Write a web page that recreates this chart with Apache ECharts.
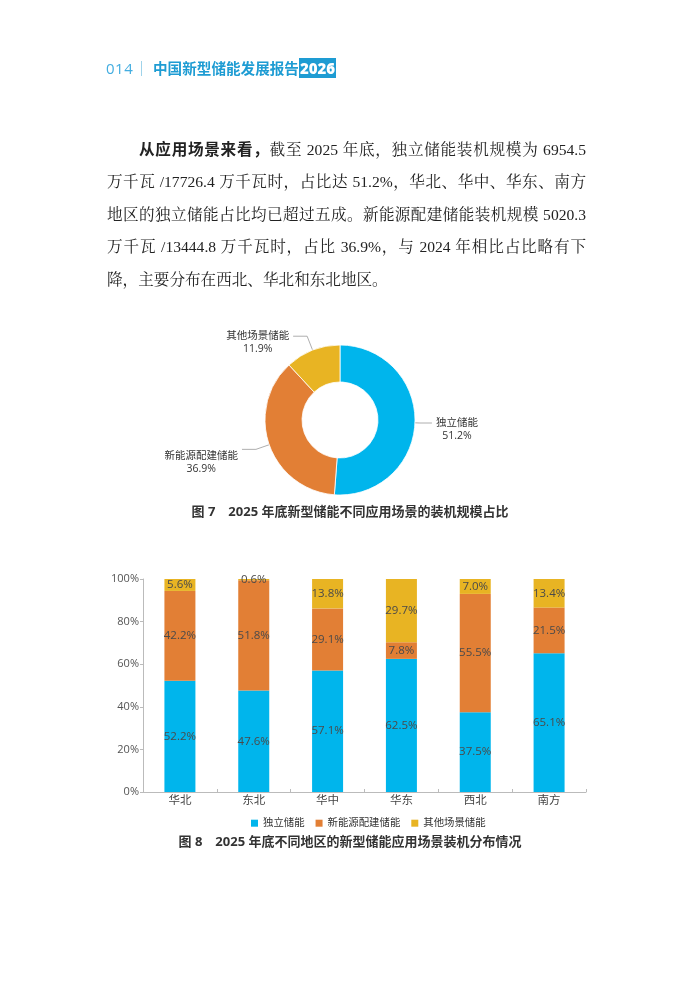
<!DOCTYPE html>
<html>
<head>
<meta charset="utf-8">
<script src="https://cdn.jsdelivr.net/npm/echarts@6/dist/echarts.min.js"></script>
<style>
  html, body { margin: 0; padding: 0; background: #fff; }
  #page { position: relative; width: 700px; height: 983px; overflow: hidden; }
  #chart { position: absolute; left: 0; top: 0; width: 700px; height: 983px; }
  .hdr { position: absolute; top: 58px; height: 20px; line-height: 20px; font-family: "Open Sans", "Noto Sans CJK SC", sans-serif; z-index: 2; }
  #pno { left: 106px; font-size: 15px; color: #43ade0; letter-spacing: 0.5px; }
  #sep { position: absolute; left: 141px; top: 61px; width: 1px; height: 15px; background: #9fd3ea; z-index: 2; }
  #ttl { left: 153px; font-size: 14.6px; font-weight: bold; color: #1e9cd3; font-family: "Noto Sans CJK SC", sans-serif; }
  #ttl span { background: #1e9cd3; color: #fff; padding: 0 1px; font-family: "Open Sans", sans-serif; font-weight: 800; font-size: 15px; }
  #para { position: absolute; left: 107px; top: 132px; width: 479px; z-index: 2;
          font-family: "Liberation Serif", "Noto Serif CJK SC", "Noto Sans CJK SC", serif;
          font-size: 15.6px; line-height: 32.4px; color: #222; }
  #para .ln { text-align: justify; text-align-last: justify; white-space: nowrap; }
  #para .ln.last { text-align-last: left; }
  #para b { font-family: "Noto Sans CJK SC", sans-serif; font-weight: bold; }
</style>
</head>
<body>
<div id="page">
  <div id="chart"></div>
  <div class="hdr" id="pno">014</div>
  <div id="sep"></div>
  <div class="hdr" id="ttl">中国新型储能发展报告<span>2026</span></div>
  <div id="para">
    <div class="ln" style="padding-left:32px"><b>从应用场景来看，</b>截至 2025 年底，独立储能装机规模为 6954.5</div>
    <div class="ln">万千瓦 /17726.4 万千瓦时，占比达 51.2%，华北、华中、华东、南方</div>
    <div class="ln">地区的独立储能占比均已超过五成。新能源配建储能装机规模 5020.3</div>
    <div class="ln">万千瓦 /13444.8 万千瓦时，占比 36.9%，与 2024 年相比占比略有下</div>
    <div class="ln last">降，主要分布在西北、华北和东北地区。</div>
  </div>
</div>
<script>
// ---- Data ----
var pieNames = ['独立储能', '新能源配建储能', '其他场景储能'];
var pieValues = [51.2, 36.9, 11.9];

var regions = ['华北', '东北', '华中', '华东', '西北', '南方'];
var seriesNames = ['独立储能', '新能源配建储能', '其他场景储能'];
var independent = [52.2, 47.6, 57.1, 62.5, 37.5, 65.1];
var renewable = [42.2, 51.8, 29.1, 7.8, 55.5, 21.5];
var others = [5.6, 0.6, 13.8, 29.7, 7.0, 13.4];
var yTicks = [0, 20, 40, 60, 80, 100];

var caption7 = '图 7　2025 年底新型储能不同应用场景的装机规模占比';
var caption8 = '图 8　2025 年底不同地区的新型储能应用场景装机分布情况';

// ---- Styles ----
var colors = ['#00b5ec', '#e27f35', '#e8b423'];
var sansFont = '"Open Sans", "Noto Sans CJK SC", sans-serif';
var pieLineLen = [[5, 12], [14, 14], [15, 14]];

var chart = echarts.init(document.getElementById('chart'), null, { renderer: 'canvas' });

var pieData = pieNames.map(function (n, i) {
  return {
    name: n,
    value: pieValues[i],
    itemStyle: { color: colors[i] },
    labelLine: { length: pieLineLen[i][0], length2: pieLineLen[i][1] }
  };
});

var barData = [independent, renewable, others];
var barSeries = seriesNames.map(function (n, i) {
  return {
    name: n,
    type: 'bar',
    stack: 'total',
    barWidth: 31,
    data: barData[i],
    itemStyle: { color: colors[i] },
    label: {
      show: true,
      position: 'inside',
      color: '#4a4a4a',
      fontSize: 11.5,
      fontFamily: sansFont,
      formatter: function (p) { return p.value.toFixed(1) + '%'; }
    },
    emphasis: { disabled: true }
  };
});

var option = {
  animation: false,
  color: colors,
  textStyle: { fontFamily: sansFont },
  graphic: [
    {
      type: 'text', left: 'center', top: 506,
      style: { text: caption7, fontSize: 13, fontWeight: 'bold', fill: '#333', fontFamily: sansFont }
    },
    {
      type: 'text', left: 'center', top: 836,
      style: { text: caption8, fontSize: 13, fontWeight: 'bold', fill: '#333', fontFamily: sansFont }
    }
  ],
  legend: {
    data: seriesNames,
    left: 246,
    top: 813,
    itemWidth: 7,
    itemHeight: 7,
    itemGap: 11,
    icon: 'rect',
    textStyle: { fontSize: 10.4, color: '#333', fontFamily: sansFont }
  },
  grid: { left: 143, right: 114, top: 579, bottom: 191 },
  xAxis: {
    type: 'category',
    data: regions,
    axisLine: { lineStyle: { color: '#bbb', width: 1 } },
    axisTick: { show: true, inside: true, length: 3, lineStyle: { color: '#bbb' } },
    axisLabel: { color: '#444', fontSize: 11.5, margin: 3, fontFamily: sansFont }
  },
  yAxis: {
    type: 'value',
    min: 0,
    max: 100,
    interval: 20,
    axisLine: { show: true, lineStyle: { color: '#bbb', width: 1 } },
    axisTick: { show: true, length: 3, lineStyle: { color: '#bbb' } },
    splitLine: { show: false },
    axisLabel: {
      color: '#555', fontSize: 11, margin: 4, fontFamily: sansFont,
      formatter: function (v) { return yTicks.indexOf(v) >= 0 ? v + '%' : ''; }
    }
  },
  series: [
    {
      type: 'pie',
      center: [340, 420],
      radius: [38, 75],
      startAngle: 90,
      clockwise: true,
      avoidLabelOverlap: false,
      data: pieData,
      itemStyle: { borderColor: '#fff', borderWidth: 0.8 },
      label: {
        show: true,
        position: 'outside',
        distanceToLabelLine: 4,
        padding: [13, 0, 0, 0],
        formatter: function (p) { return '{a|' + p.name + '}\n{a|' + p.value.toFixed(1) + '%}'; },
        rich: {
          a: { fontSize: 10.5, color: '#333', lineHeight: 13, align: 'center', fontFamily: sansFont }
        }
      },
      labelLayout: function (p) {
        if (p.seriesIndex === 0 && p.dataIndex === 1) { return { dy: 7 }; }
        return {};
      },
      labelLine: { show: true, smooth: false, lineStyle: { color: '#999', width: 0.8 } },
      emphasis: { disabled: true }
    }
  ].concat(barSeries)
};

chart.setOption(option);
</script>
</body>
</html>
